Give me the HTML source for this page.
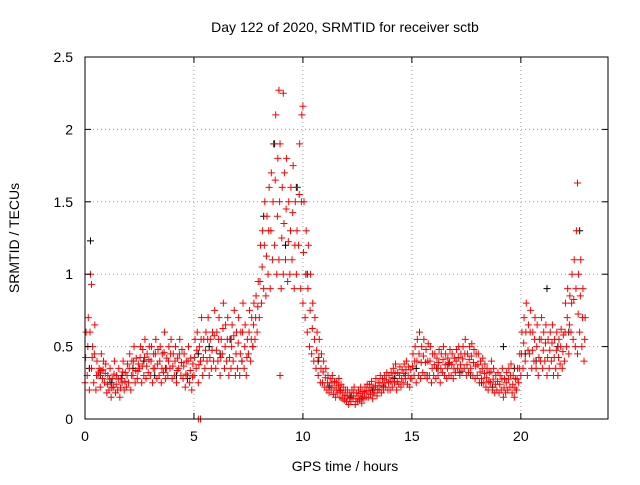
<!DOCTYPE html>
<html><head><meta charset="utf-8"><style>
body{margin:0;background:#fff}
text{font-family:"Liberation Sans",sans-serif;font-size:14px;fill:#000}
</style></head><body>
<svg id="chart" width="640" height="480" xmlns="http://www.w3.org/2000/svg">
<rect width="640" height="480" fill="#fff"/>
<g id="grid"></g><g id="marks"></g><g id="axes"></g>
<text x="345" y="32" text-anchor="middle">Day 122 of 2020, SRMTID for receiver sctb</text>
<text x="345" y="471" text-anchor="middle">GPS time / hours</text>
<text transform="translate(19,238) rotate(-90)" text-anchor="middle">SRMTID / TECUs</text>
</svg>
<script>
const xTicks=[0,5,10,15,20];
const yTicks=[0,0.5,1,1.5,2,2.5];
const yTickLabels=["0","0.5","1","1.5","2","2.5"];
const redLow=[.25,.3,.2,.35,.25,.2,.3,.22,.28,.25,.18,.2,.15,.22,.18,.2,.15,.25,.2,.22,.25,.2,.3,.25,.28,.35,.25,.3,.28,.32,.3,.25,.35,.28,.3,.25,.32,.28,.3,.35,.28,.3,.25,.35,.3,.28,.22,.3,.25,.2,.3,.35,.25,.4,.3,.35,.4,.3,.35,.4,.35,.4,.3,.45,.35,.4,.3,.35,.4,.3,.35,.3,.4,.35,.3,.45,.4,.5,.55,.6,.7,.8,.9,.85,1.0,.9,1.1,1.2,1.0,1.1,.9,1.0,1.1,.95,1.0,1.1,.9,1.0,1.2,.9,.8,.7,.6,.5,.45,.4,.35,.3,.25,.25,.22,.2,.18,.2,.17,.15,.18,.15,.14,.13,.12,.1,.12,.14,.1,.12,.13,.11,.14,.15,.15,.17,.14,.18,.16,.2,.18,.2,.22,.2,.2,.22,.25,.2,.24,.22,.25,.28,.24,.22,.28,.3,.25,.3,.28,.32,.3,.28,.3,.25,.3,.28,.3,.25,.32,.3,.28,.3,.3,.28,.32,.35,.3,.33,.35,.3,.32,.35,.3,.28,.3,.25,.28,.25,.22,.2,.25,.2,.18,.2,.18,.2,.15,.18,.2,.22,.18,.15,.2,.25,.3,.35,.4,.3,.45,.35,.4,.35,.3,.4,.35,.4,.3,.35,.4,.3,.35,.3,.38,.35,.4,.5,.45,.6,.55,.5,.45,.6,.5,.4];
const redHigh=[.6,.7,1.0,.5,.65,.4,.35,.45,.4,.38,.3,.35,.28,.4,.3,.35,.28,.4,.32,.38,.45,.4,.5,.42,.38,.5,.48,.55,.45,.5,.5,.45,.55,.48,.5,.45,.6,.42,.5,.55,.45,.5,.42,.55,.48,.45,.4,.5,.42,.38,.55,.6,.5,.7,.55,.6,.7,.55,.6,.75,.6,.7,.55,.8,.65,.7,.55,.65,.75,.6,.7,.6,.8,.65,.55,.75,.7,.8,.85,.95,1.2,1.3,1.5,1.4,1.6,1.7,1.9,2.1,1.8,1.9,1.6,1.7,1.8,1.5,1.6,1.75,1.5,1.6,1.9,2.1,1.5,1.3,1.2,1.0,.8,.7,.6,.55,.45,.4,.35,.3,.28,.3,.26,.25,.28,.24,.22,.2,.2,.18,.2,.22,.18,.2,.22,.19,.22,.24,.24,.26,.22,.28,.25,.3,.28,.3,.32,.3,.32,.35,.38,.32,.36,.34,.38,.4,.36,.34,.45,.5,.55,.6,.5,.55,.48,.52,.5,.45,.45,.42,.48,.45,.5,.45,.42,.48,.45,.42,.48,.5,.45,.5,.55,.45,.5,.52,.48,.45,.45,.4,.42,.38,.35,.32,.4,.35,.3,.32,.3,.35,.28,.32,.35,.38,.3,.28,.35,.45,.6,.7,.8,.65,.75,.6,.7,.65,.55,.7,.6,.65,.55,.6,.65,.55,.6,.55,.62,.58,.8,.9,.85,1.0,1.1,1.3,1.0,1.1,.9,.7];
const redTimes=redLow.map((_,i)=>i/10);
const blackVals=[.35,.3,.25,.3,.35,.4,.3,.35,.3,.28,.45,.5,.45,.55,.4,.5,1.4,1.9,1.2,1.6,1.0,.4,.22,.2,.15,.14,.2,.22,.28,.3,.35,.3,.35,.38,.32,.3,.25,.22,.5,.35,.45,.4,.9,.5,.6,1.3];
const blackTimes=blackVals.map((_,i)=>i/2+0.2);
const outT=[8.9,9.1,10.0,22.6,0.25,5.2,5.3,0.3,8.95];
const outV=[2.27,2.25,2.16,1.63,1.23,0.0,0.0,0.93,0.3];
const outC=["r","r","r","r","k","r","r","r","r"];

const X0=85,X1=608,Y0=419,Y1=57;
const xs=v=>X0+(X1-X0)*v/24;
const ys=v=>Y0-(Y0-Y1)*v/2.5;
const NS="http://www.w3.org/2000/svg";
function mk(tag,attrs,parent){const e=document.createElementNS(NS,tag);for(const k in attrs)e.setAttribute(k,attrs[k]);parent.appendChild(e);return e;}
const grid=document.getElementById('grid'),axes=document.getElementById('axes'),marks=document.getElementById('marks');
xTicks.forEach(t=>{
  if(t>0){const g=mk('line',{x1:xs(t),x2:xs(t),y1:Y0,y2:Y1,stroke:'#a0a0a0','stroke-dasharray':'1,3'},grid);
  
  }
  mk('line',{x1:xs(t),x2:xs(t),y1:Y0,y2:Y0-6,stroke:'#000'},axes);
  mk('line',{x1:xs(t),x2:xs(t),y1:Y1,y2:Y1+6,stroke:'#000'},axes);
  const l=mk('text',{x:xs(t),y:Y0+22,'text-anchor':'middle'},axes);l.textContent=t;
  
  
});
yTicks.forEach((t,i)=>{
  if(t>0&&t<2.5){const g=mk('line',{x1:X0,x2:X1,y1:ys(t),y2:ys(t),stroke:'#a0a0a0','stroke-dasharray':'1,3'},grid);
  
  }
  mk('line',{x1:X0,x2:X0+6,y1:ys(t),y2:ys(t),stroke:'#000'},axes);
  mk('line',{x1:X1,x2:X1-6,y1:ys(t),y2:ys(t),stroke:'#000'},axes);
  const l=mk('text',{x:X0-12,y:ys(t)+5,'text-anchor':'end'},axes);l.textContent=yTickLabels[i];
  
  
});
const fr=mk('rect',{x:X0,y:Y1,width:X1-X0,height:Y0-Y1,fill:'none',stroke:'#000'},axes);


function plus(t,v,c){
  const x=xs(t),y=ys(v);
  const p=mk('path',{d:`M${x-3.5} ${y}h7M${x} ${y-3.5}v7`,stroke:c,'stroke-width':1},marks);
  
  
}
blackTimes.forEach((t,i)=>plus(t,blackVals[i],'#000'));
redTimes.forEach((t,i)=>{plus(t,redLow[i],'#f00');plus(t+0.05,redHigh[i],'#f00');plus(t+0.03,(redLow[i]+redHigh[i])/2,'#f00');});
outT.forEach((t,i)=>plus(t,outV[i],outC[i]==='k'?'#000':'#f00'));
</script>
</body></html>
